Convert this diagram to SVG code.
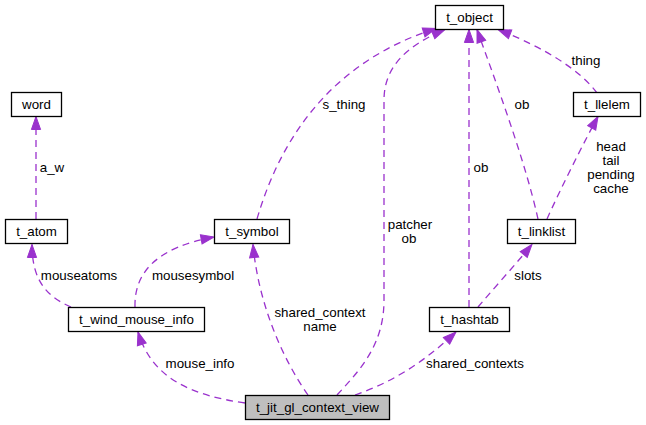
<svg xmlns="http://www.w3.org/2000/svg" width="646" height="425" viewBox="0 0 646 425">
<style>
  text { font-family: "Liberation Sans", Arial, Helvetica, sans-serif; font-size: 13.33px; fill: #000; }
  .node rect { fill: #fff; stroke: #000; stroke-width: 1.3; }
  .node text { text-anchor: middle; }
  #t_jit_gl_context_view rect { fill: #bfbfbf; }
  .edge path { fill: none; stroke: #9a32cd; stroke-width: 1.3; stroke-dasharray: 7,5; marker-end: url(#ah); }
  .lbl { text-anchor: middle; }
</style>
<defs>
  <marker id="ah" markerWidth="14" markerHeight="10" refX="13" refY="4.6" orient="auto" markerUnits="userSpaceOnUse" overflow="visible">
    <path d="M0,0 L13,4.6 L0,9.2 Z" fill="#9a32cd" stroke="#9a32cd" stroke-width="1" stroke-dasharray="none"/>
  </marker>
</defs>
<rect width="646" height="425" fill="#fff"/>
<g id="edges">
  <g class="edge"><path d="M36,219 L36,116.5"/><text class="lbl" x="52" y="172">a_w</text></g>
  <g class="edge"><path d="M71,307 C48,297 32,282 32,244.5"/><text class="lbl" x="79" y="280">mouseatoms</text></g>
  <g class="edge"><path d="M135,307 C134,270 160,247 214,237"/><text class="lbl" x="193" y="280">mousesymbol</text></g>
  <g class="edge"><path d="M308,395 C280,355 258,300 253,244.5"/><text class="lbl" x="320" y="317">shared_context</text><text class="lbl" x="320" y="331">name</text></g>
  <g class="edge"><path d="M245,403 C190,395 152,378 138,332"/><text class="lbl" x="200" y="368">mouse_info</text></g>
  <g class="edge"><path d="M355,395 C390,383 422,364 456,332"/><text class="lbl" x="475" y="368">shared_contexts</text></g>
  <g class="edge"><path d="M337,395 C360,370 384,345 384,300 L384,100 C384,66 408,45 445,29.5"/><text class="lbl" x="410" y="229">patcher</text><text class="lbl" x="409" y="243">ob</text></g>
  <g class="edge"><path d="M257,219 C280,140 330,62 436,28.5"/><text class="lbl" x="344" y="109">s_thing</text></g>
  <g class="edge"><path d="M469,307 L469,29.5"/><text class="lbl" x="481" y="172">ob</text></g>
  <g class="edge"><path d="M538,219 C525,160 495,80 477,29.5"/><text class="lbl" x="522" y="109">ob</text></g>
  <g class="edge"><path d="M597,93 C580,70 545,48 498,29.5"/><text class="lbl" x="586" y="65">thing</text></g>
  <g class="edge"><path d="M547,219 C560,190 585,140 598,116.5"/><text class="lbl" x="611" y="151">head</text><text class="lbl" x="611" y="165">tail</text><text class="lbl" x="611" y="179">pending</text><text class="lbl" x="611" y="193">cache</text></g>
  <g class="edge"><path d="M478,307 C495,287 515,265 532,244.5"/><text class="lbl" x="528" y="280">slots</text></g>
</g>
<g id="t_object" class="node"><rect x="435.5" y="5.5" width="68" height="24"/><text x="469.5" y="22">t_object</text></g>
<g id="word" class="node"><rect x="11.5" y="92.5" width="50" height="24"/><text x="36.5" y="109">word</text></g>
<g id="t_llelem" class="node"><rect x="573.5" y="92.5" width="67" height="24"/><text x="607" y="109">t_llelem</text></g>
<g id="t_atom" class="node"><rect x="5.5" y="219.5" width="62" height="24"/><text x="36.5" y="236">t_atom</text></g>
<g id="t_symbol" class="node"><rect x="214.5" y="219.5" width="75" height="24"/><text x="252" y="236">t_symbol</text></g>
<g id="t_linklist" class="node"><rect x="507.5" y="219.5" width="68" height="24"/><text x="541.5" y="236">t_linklist</text></g>
<g id="t_wind_mouse_info" class="node"><rect x="68.5" y="307.5" width="136" height="24"/><text x="136.5" y="324">t_wind_mouse_info</text></g>
<g id="t_hashtab" class="node"><rect x="429.5" y="307.5" width="80" height="24"/><text x="469.5" y="324">t_hashtab</text></g>
<g id="t_jit_gl_context_view" class="node"><rect x="245.5" y="395.5" width="144" height="24"/><text x="317.5" y="412">t_jit_gl_context_view</text></g>
</svg>
